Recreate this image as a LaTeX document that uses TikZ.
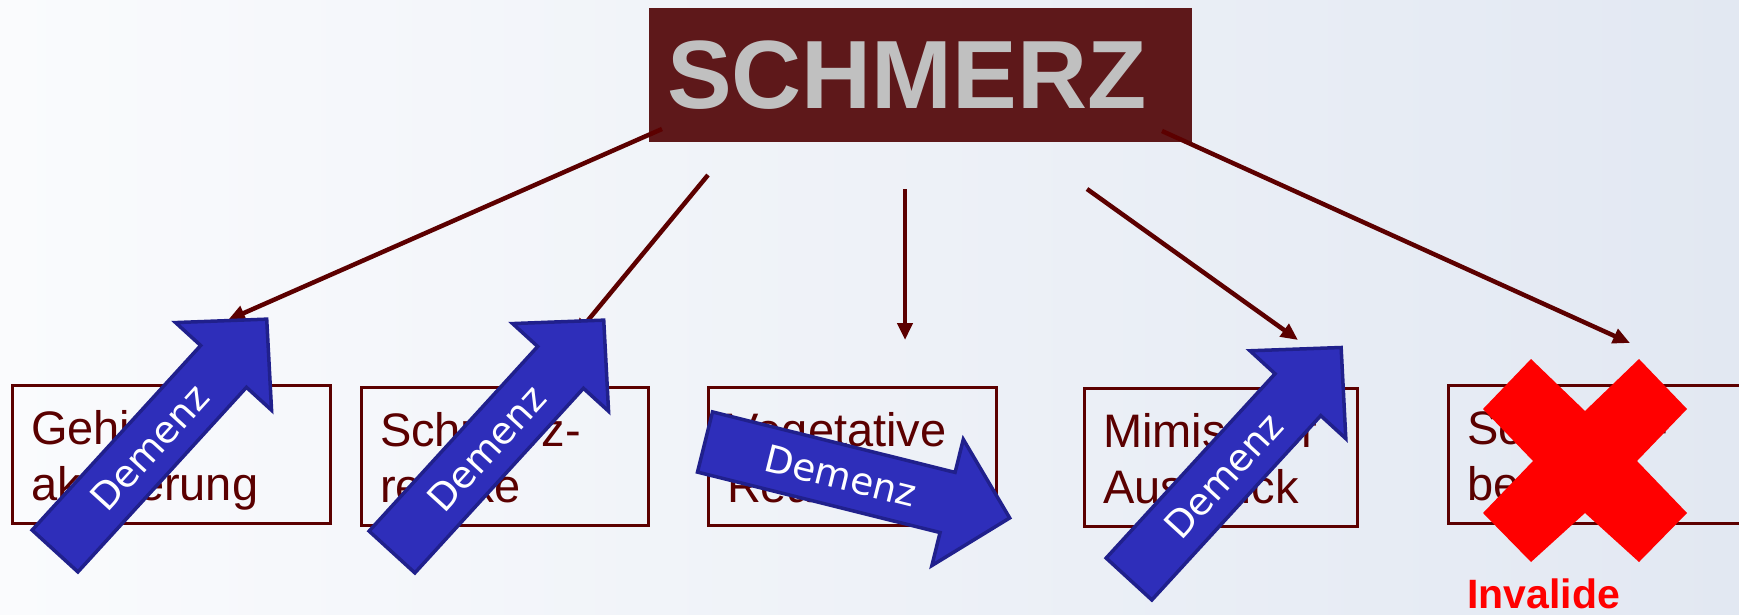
\documentclass[tikz,border=0pt]{standalone}
\usepackage{fontspec}
\setmainfont{Liberation Sans}
\newfontfamily\demfont{DejaVu Sans}
\usetikzlibrary{arrows.meta}

\definecolor{bgleft}{RGB}{250,251,253}
\definecolor{bgright}{RGB}{226,232,242}
\definecolor{schmerzfill}{RGB}{94,24,26}
\definecolor{schmerztext}{RGB}{192,192,192}
\definecolor{darkred}{RGB}{92,0,0}
\definecolor{boxtext}{RGB}{90,0,0}
\definecolor{demfill}{RGB}{46,46,186}
\definecolor{demline}{RGB}{32,32,140}
\definecolor{xred}{RGB}{255,0,0}

\newcommand\demarrow[4]{%
  \begin{scope}[shift={(#2,#3)}, rotate=#4]
    \path[demshape] (0,-31) -- (250,-31) -- (250,-65) -- (314,0) -- (250,65) -- (250,31) -- (0,31) -- cycle;
    \node[demtext, rotate=#4] (#1) at (140,0) {Demenz};
  \end{scope}}
\newcommand\topline{\rule{0pt}{46pt}}

\begin{document}
\begin{tikzpicture}[x=1pt,y=-1pt,
  conn/.style={draw=darkred, line width=4.5pt, -{Triangle[length=17pt,width=15pt]}},
  itembox/.style={draw=darkred, line width=3pt, minimum height=138pt, inner xsep=19pt,
    inner ysep=8pt, align=left, text=boxtext, font=\fontsize{47}{56}\selectfont},
  schmerzbox/.style={fill=schmerzfill, minimum height=134pt, inner xsep=18pt, align=left,
    text=schmerztext, font=\fontsize{97}{100}\selectfont\bfseries},
  demshape/.style={fill=demfill, draw=demline, line width=3.5pt, line join=miter},
  demtext/.style={text=white, inner sep=0pt, font=\demfont\fontsize{37.5}{40}\selectfont},
  xmark/.style={fill=xred},
  invtext/.style={text=xred, inner sep=0pt, anchor=base west, font=\fontsize{41}{45}\selectfont\bfseries}
]
\clip (0,0) rectangle (1739,615);
\shade[left color=bgleft, right color=bgright] (0,0) rectangle (1739,615);

% top box
\node[schmerzbox, text width=507pt] (schmerz) at (920.5,75) {SCHMERZ};

% item boxes
\node[itembox, text width=280pt] (b1) at (171,454) {\topline Gehirn-\\aktivierung};
\node[itembox, text width=249pt] (b2) at (504.5,456.5) {\topline Schmerz-\\reflexe\vphantom{g}};
\node[itembox, text width=250pt] (b3) at (852,456.5) {\topline Vegetative\\Reaktion\vphantom{g}};
\node[itembox, text width=235pt] (b4) at (1220.5,457) {\topline Mimischer\\Ausdruck\vphantom{g}};
\node[itembox, text width=280pt] (b5) at (1607,454.5) {\topline Schmerz-\\bericht\vphantom{g}};

% connectors
\coordinate (s1) at (662,129);  \coordinate (e1) at (228,320);
\coordinate (s2) at (708,175);  \coordinate (e2) at (575,336);
\coordinate (s3) at (905,189);  \coordinate (e3) at (905,340);
\coordinate (s4) at (1087,189); \coordinate (e4) at (1298,340);
\coordinate (s5) at (1162,131); \coordinate (e5) at (1630,343);
\draw[conn] (s1) -- (e1);
\draw[conn] (s2) -- (e2);
\draw[conn] (s3) -- (e3);
\draw[conn] (s4) -- (e4);
\draw[conn] (s5) -- (e5);

% Demenz arrows
\demarrow{d1}{55}{551}{47.6}
\demarrow{d2}{392}{552}{47.6}
\demarrow{d3}{705}{442}{-14}
\demarrow{d4}{1129}{579}{47.5}

% red cross
\fill[xmark] (1531,359) -- (1585,411) -- (1639,359) -- (1687,409) -- (1637,461) -- (1687,513)
  -- (1639,562) -- (1585,513) -- (1531,562) -- (1483,513) -- (1533,461) -- (1483,409) -- cycle;
\node[invtext] (inv) at (1467,608) {Invalide};
\end{tikzpicture}
\end{document}
